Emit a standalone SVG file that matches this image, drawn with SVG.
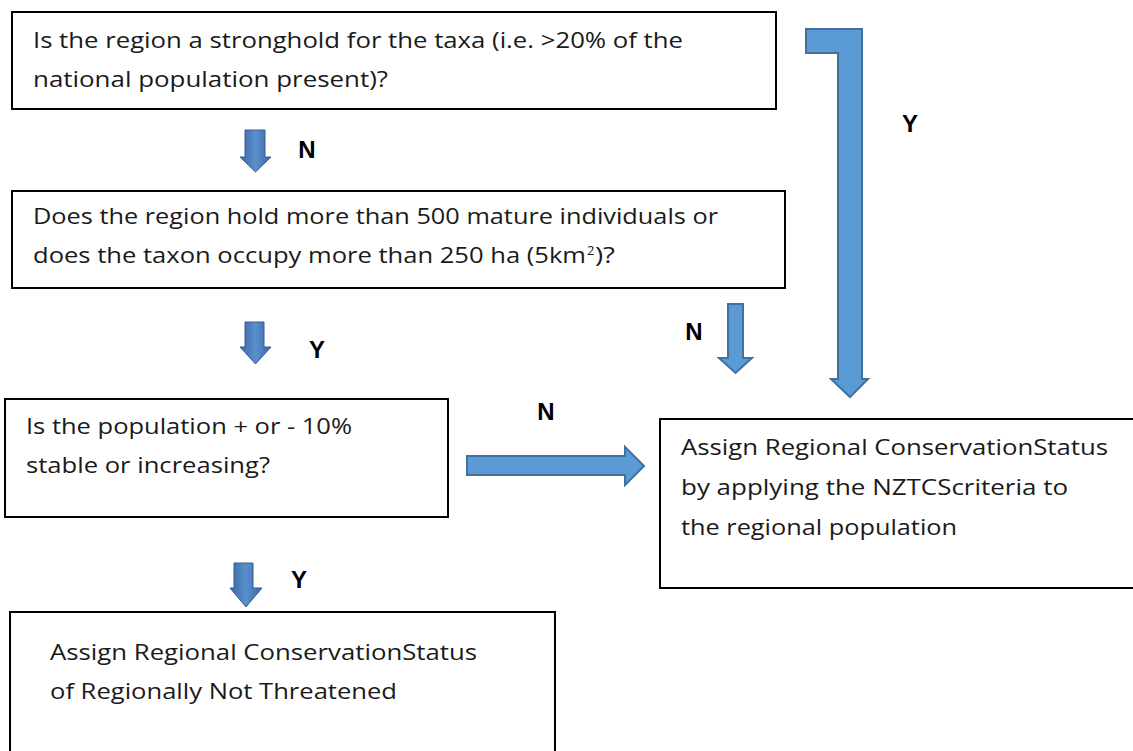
<svg xmlns="http://www.w3.org/2000/svg" width="1133" height="751" viewBox="0 0 1133 751">
<style>
.box{fill:#fff;stroke:#000;stroke-width:2}
.t{font-family:"Open Sans","Noto Sans","Liberation Sans",sans-serif;font-size:22.5px;fill:#1a1a1a}
.lbl{font-family:"Liberation Sans",Arial,sans-serif;font-size:24px;font-weight:bold;fill:#000;text-anchor:middle}
.ba{fill:#5B9BD5;stroke:#41719C;stroke-width:2}
.sa{fill:url(#g);stroke:#385D8A;stroke-width:1}
</style>
<defs>
<linearGradient id="g" x1="0" y1="0" x2="1" y2="0">
<stop offset="0" stop-color="#3A68A3"/>
<stop offset="0.5" stop-color="#5A8FCE"/>
<stop offset="1" stop-color="#3A68A3"/>
</linearGradient>
</defs>
<g id="node1">
<rect class="box" x="12" y="12" width="764" height="97"/>
<text class="t" x="33" y="48" textLength="650" lengthAdjust="spacingAndGlyphs">Is the region a stronghold for the taxa (i.e. &gt;20% of the</text>
<text class="t" x="33" y="87" textLength="355" lengthAdjust="spacingAndGlyphs">national population present)?</text>
</g>
<g id="node2">
<rect class="box" x="12" y="191" width="773" height="97"/>
<text class="t" x="33" y="224" textLength="685" lengthAdjust="spacingAndGlyphs">Does the region hold more than 500 mature individuals or</text>
<text class="t" x="33" y="263" textLength="553" lengthAdjust="spacingAndGlyphs">does the taxon occupy more than 250 ha (5km</text>
<text class="t" x="587" y="255" font-size="13" style="font-size:13px">2</text>
<text class="t" x="595" y="263" textLength="20" lengthAdjust="spacingAndGlyphs">)?</text>
</g>
<g id="node3">
<rect class="box" x="5" y="399" width="443" height="118"/>
<text class="t" x="26" y="434" textLength="326" lengthAdjust="spacingAndGlyphs">Is the population + or - 10%</text>
<text class="t" x="26" y="473" textLength="244" lengthAdjust="spacingAndGlyphs">stable or increasing?</text>
</g>
<g id="node4">
<rect class="box" x="660" y="419" width="480" height="169"/>
<text class="t" x="681" y="455" textLength="427" lengthAdjust="spacingAndGlyphs">Assign Regional ConservationStatus</text>
<text class="t" x="681" y="495" textLength="387" lengthAdjust="spacingAndGlyphs">by applying the NZTCScriteria to</text>
<text class="t" x="681" y="535" textLength="276" lengthAdjust="spacingAndGlyphs">the regional population</text>
</g>
<g id="node5">
<rect class="box" x="10" y="612" width="545" height="145"/>
<text class="t" x="50" y="660" textLength="427" lengthAdjust="spacingAndGlyphs">Assign Regional ConservationStatus</text>
<text class="t" x="50" y="699" textLength="347" lengthAdjust="spacingAndGlyphs">of Regionally Not Threatened</text>
</g>
<g id="connectors">
<path class="ba" d="M806,29 H862 V379 H868 L850,397 L831,379 H838 V53 H806 Z"/>
<path class="ba" d="M728,304 H743 V358 H752 L735.5,373 L719,358 H728 Z"/>
<path class="ba" d="M467,456 H625 V447 L644,466 L625,485 V475 H467 Z"/>
<path class="sa" d="M245,130 H265 V157 H271 L255.5,172 L240,157 H245 Z"/>
<path class="sa" d="M245,322 H264 V347 H271 L255.5,364 L240,347 H245 Z"/>
<path class="sa" d="M234,563 H253 V588 H262 L246,607 L230,588 H234 Z"/>
<text class="lbl" x="307" y="157.5">N</text>
<text class="lbl" x="910" y="131.5">Y</text>
<text class="lbl" x="317" y="357.5">Y</text>
<text class="lbl" x="694" y="339.5">N</text>
<text class="lbl" x="546" y="419.5">N</text>
<text class="lbl" x="299" y="587.5">Y</text>
</g>
</svg>
